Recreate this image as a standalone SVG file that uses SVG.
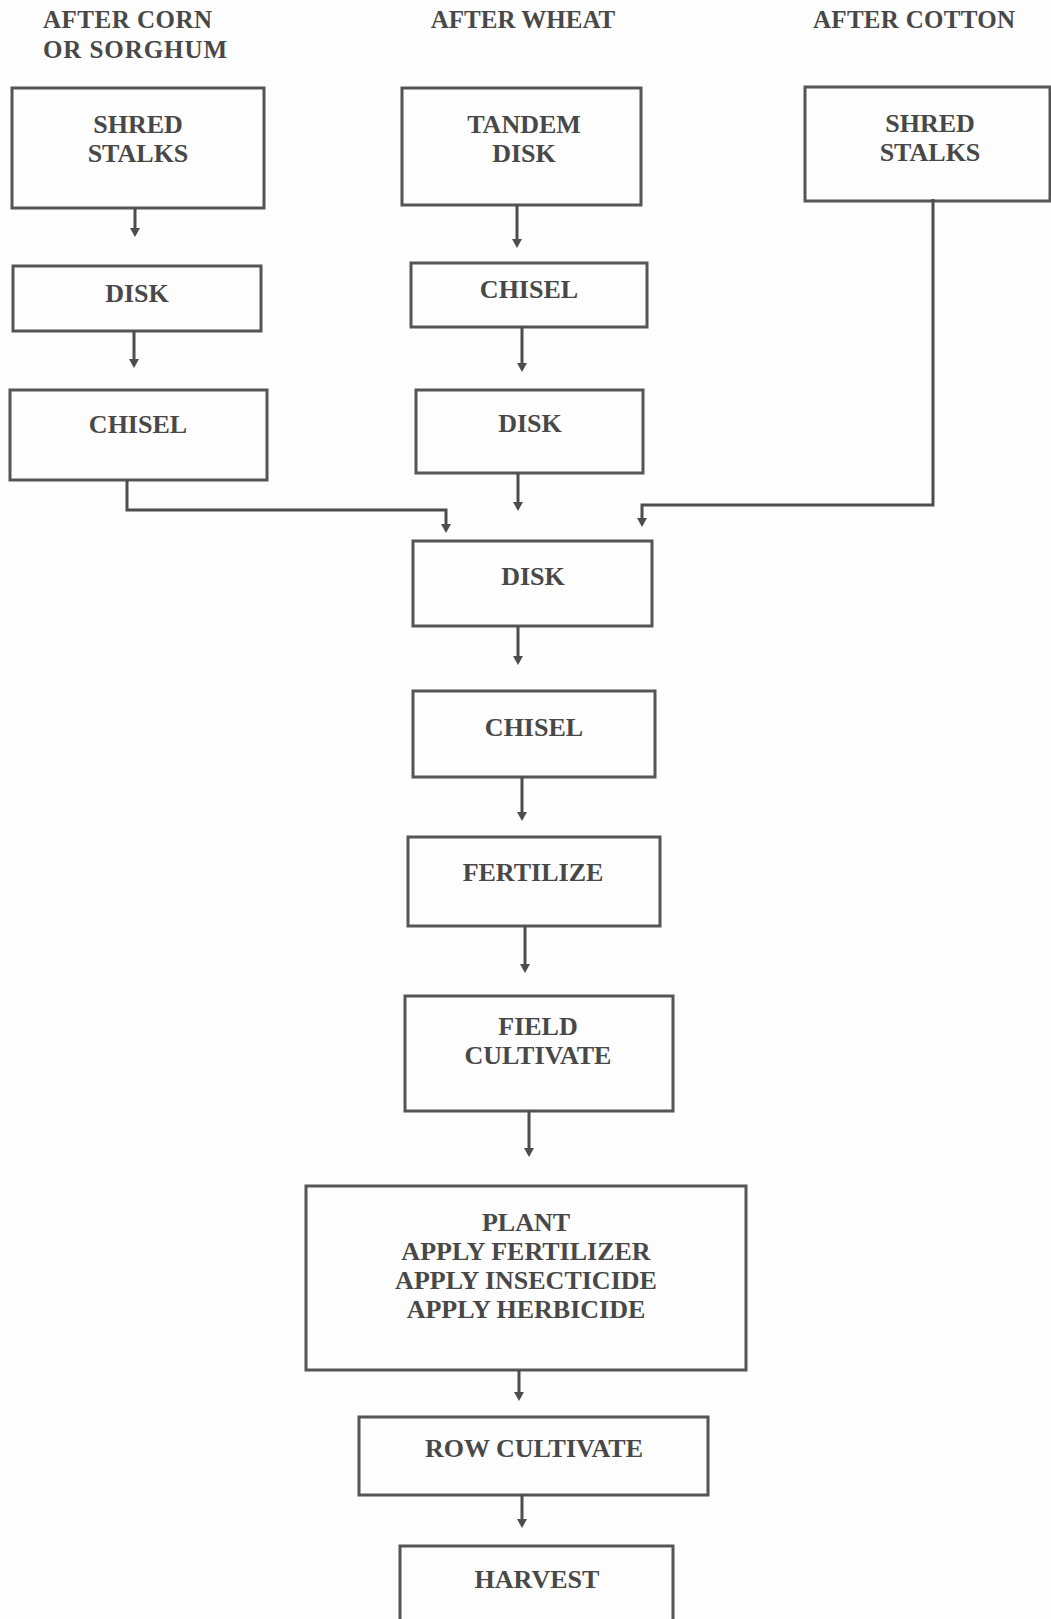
<svg xmlns="http://www.w3.org/2000/svg" width="1051" height="1619" viewBox="0 0 1051 1619">
  <defs>
    <marker id="arrow" viewBox="0 0 9 10" refX="0" refY="5" markerWidth="9" markerHeight="10" markerUnits="userSpaceOnUse" orient="auto">
      <path d="M0,0 L9,5 L0,10 z" fill="#4d4d4d"/>
    </marker>
    <style>
      .box { fill: none; stroke: #555; stroke-width: 3; }
      .lbl { font-family: "Liberation Serif", "Times New Roman", serif; font-weight: bold; font-size: 26px; fill: #484848; text-anchor: middle; }
      .hdr { font-family: "Liberation Serif", "Times New Roman", serif; font-weight: bold; font-size: 25px; fill: #484848; }
      .conn { fill: none; stroke: #4d4d4d; stroke-width: 3; marker-end: url(#arrow); }
    </style>
  </defs>
  <rect width="1051" height="1619" fill="#fdfdfd"/>

  <!-- column headings -->
  <g id="headings">
    <text class="hdr" x="43" y="28" textLength="169" lengthAdjust="spacing">AFTER CORN</text>
    <text class="hdr" x="43" y="58" textLength="184" lengthAdjust="spacing">OR SORGHUM</text>
    <text class="hdr" x="523" y="28" text-anchor="middle">AFTER WHEAT</text>
    <text class="hdr" x="914" y="28" text-anchor="middle" textLength="202" lengthAdjust="spacing">AFTER COTTON</text>
  </g>

  <!-- after corn or sorghum -->
  <g id="corn-shred">
    <rect class="box" x="12" y="88" width="252" height="120"/>
    <text class="lbl" x="138" y="133">SHRED</text>
    <text class="lbl" x="138" y="162">STALKS</text>
  </g>
  <g id="corn-disk">
    <rect class="box" x="13" y="266" width="248" height="65"/>
    <text class="lbl" x="137" y="302">DISK</text>
  </g>
  <g id="corn-chisel">
    <rect class="box" x="10" y="390" width="257" height="90"/>
    <text class="lbl" x="138" y="433">CHISEL</text>
  </g>

  <!-- after wheat -->
  <g id="wheat-tandem-disk">
    <rect class="box" x="402" y="88" width="239" height="117"/>
    <text class="lbl" x="524" y="133">TANDEM</text>
    <text class="lbl" x="524" y="162">DISK</text>
  </g>
  <g id="wheat-chisel">
    <rect class="box" x="411" y="263" width="236" height="64"/>
    <text class="lbl" x="529" y="298">CHISEL</text>
  </g>
  <g id="wheat-disk">
    <rect class="box" x="416" y="390" width="227" height="83"/>
    <text class="lbl" x="530" y="432">DISK</text>
  </g>

  <!-- after cotton -->
  <g id="cotton-shred">
    <rect class="box" x="805" y="87" width="245" height="114"/>
    <text class="lbl" x="930" y="132">SHRED</text>
    <text class="lbl" x="930" y="161">STALKS</text>
  </g>

  <!-- common sequence -->
  <g id="disk">
    <rect class="box" x="413" y="541" width="239" height="85"/>
    <text class="lbl" x="533" y="585">DISK</text>
  </g>
  <g id="chisel">
    <rect class="box" x="413" y="691" width="242" height="86"/>
    <text class="lbl" x="534" y="736">CHISEL</text>
  </g>
  <g id="fertilize">
    <rect class="box" x="408" y="837" width="252" height="89"/>
    <text class="lbl" x="533" y="881">FERTILIZE</text>
  </g>
  <g id="field-cultivate">
    <rect class="box" x="405" y="996" width="268" height="115"/>
    <text class="lbl" x="538" y="1035">FIELD</text>
    <text class="lbl" x="538" y="1064">CULTIVATE</text>
  </g>
  <g id="plant">
    <rect class="box" x="306" y="1186" width="440" height="184"/>
    <text class="lbl" x="526" y="1231">PLANT</text>
    <text class="lbl" x="526" y="1260">APPLY FERTILIZER</text>
    <text class="lbl" x="526" y="1289">APPLY INSECTICIDE</text>
    <text class="lbl" x="526" y="1318">APPLY HERBICIDE</text>
  </g>
  <g id="row-cultivate">
    <rect class="box" x="359" y="1417" width="349" height="78"/>
    <text class="lbl" x="534" y="1457">ROW CULTIVATE</text>
  </g>
  <g id="harvest">
    <rect class="box" x="400" y="1546" width="273" height="100"/>
    <text class="lbl" x="537" y="1588">HARVEST</text>
  </g>

  <!-- connectors -->
  <g id="connectors">
    <path class="conn" d="M135,208 V228"/>
    <path class="conn" d="M134,331 V359"/>
    <path class="conn" d="M127,480 V510 H446 V524"/>
    <path class="conn" d="M517,205 V239"/>
    <path class="conn" d="M522,327 V363"/>
    <path class="conn" d="M518,473 V502"/>
    <path class="conn" d="M933,199 V505 H642 V518"/>
    <path class="conn" d="M518,626 V656"/>
    <path class="conn" d="M522,777 V812"/>
    <path class="conn" d="M525,926 V964"/>
    <path class="conn" d="M529,1111 V1148"/>
    <path class="conn" d="M519,1370 V1392"/>
    <path class="conn" d="M522,1495 V1519"/>
  </g>
</svg>
